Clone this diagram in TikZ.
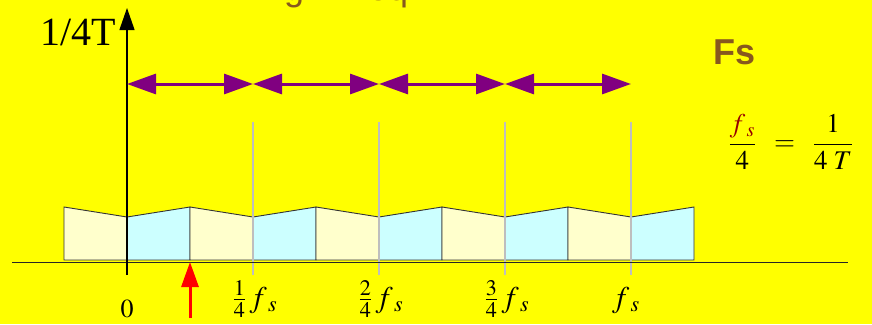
\documentclass[tikz,border=0pt]{standalone}
\usepackage{amsmath}
\usepackage{mathptmx}
\usepackage{fontspec}
\setmainfont{Liberation Serif}
\setsansfont{Liberation Sans}
\usepackage{xcolor}
\usepackage{tikz}
\usetikzlibrary{arrows.meta, positioning, calc}

\definecolor{bgyel}{HTML}{FFFF00}
\definecolor{blkcream}{HTML}{FFFFCC}
\definecolor{blkcyan}{HTML}{CCFFFF}
\definecolor{arrpurple}{HTML}{800080}
\definecolor{txtbrown}{RGB}{135,88,30}
\definecolor{fsred}{RGB}{150,0,0}
\definecolor{gridgray}{HTML}{BEBEBE}

\begin{document}
\begin{tikzpicture}[x=1pt, y=-1pt,
  blk/.style={draw=black!80, line width=0.9pt},
  grid/.style={gridgray, line width=1.2pt},
  span/.style={arrpurple, line width=3pt,
               {Triangle[length=29pt,width=20pt]}-{Triangle[length=29pt,width=20pt]}},
  lbl/.style={font=\fontsize{30}{34}\selectfont, inner sep=0pt, anchor=base},
]

% ---- Background ------------------------------------------------------------
\path[use as bounding box, fill=bgyel] (0,0) rectangle (872,324);

% ---- Title (cut off at the top) --------------------------------------------
\node[font=\sffamily\fontsize{36}{40}\selectfont, text=txtbrown,
      inner sep=0pt, anchor=base west] (title) at (250,0.5) {High Freq};

% ---- Spectrum blocks -------------------------------------------------------
\foreach \k in {0,...,9}{
  \pgfmathsetmacro\xa{64+63*\k}
  \pgfmathsetmacro\xb{64+63*(\k+1)}
  \ifodd\k
    \def\bc{blkcyan}\def\ya{217}\def\yb{207}
  \else
    \def\bc{blkcream}\def\ya{207}\def\yb{217}
  \fi
  \draw[blk, fill=\bc] (\xa,260) -- (\xa,\ya) -- (\xb,\yb) -- (\xb,260) -- cycle;
}

% ---- Grid lines and axes ---------------------------------------------------
\foreach \i in {1,...,4}
  \draw[grid] (127+126*\i,122) -- (127+126*\i,275);
\draw[black!85, line width=1pt] (12,262) -- (848,262);
\draw[line width=1.2pt, -{Triangle[length=22pt,width=15pt]}] (127,275) -- (127,8);
\node[font=\fontsize{40}{44}\selectfont, inner sep=0pt, anchor=base east]
  (ylab) at (116,45) {1/4T};

% ---- Purple spans ----------------------------------------------------------
\foreach \i in {0,...,4}
  \coordinate (g\i) at (127+126*\i,84);
\foreach \i [evaluate=\i as \j using int(\i+1)] in {0,...,3}
  \draw[span] (g\i) -- (g\j);

% ---- Red marker ------------------------------------------------------------
\coordinate (mk) at (190,318);
\coordinate (mktip) at (190,262);
\draw[red, line width=3pt, -{Triangle[length=25pt,width=17pt]}] (mk) -- (mktip);

% ---- Axis labels -----------------------------------------------------------
\node[lbl, font=\fontsize{26}{30}\selectfont] (l0) at (127,317) {$0$};
\node[lbl] (l1) at (255,307) {$\tfrac{1}{4}\,f_{\;s}$};
\node[lbl] (l2) at (381,307) {$\tfrac{2}{4}\,f_{\;s}$};
\node[lbl] (l3) at (507,307) {$\tfrac{3}{4}\,f_{\;s}$};
\node[lbl] (l4) at (626,307) {$f_{\;s}$};

% ---- Fs relation -----------------------------------------------------------
\node[font=\sffamily\bfseries\fontsize{36}{40}\selectfont, text=txtbrown,
      inner sep=0pt, anchor=base west] (fs) at (713,64) {Fs};
\node[font=\fontsize{27}{32}\selectfont, inner sep=0pt] (eq) at (791,142)
  {$\displaystyle\frac{\textcolor{fsred}{f_{\;s}}}{4}\;\;=\;\;\frac{1}{4\;T}$};

\end{tikzpicture}
\end{document}
